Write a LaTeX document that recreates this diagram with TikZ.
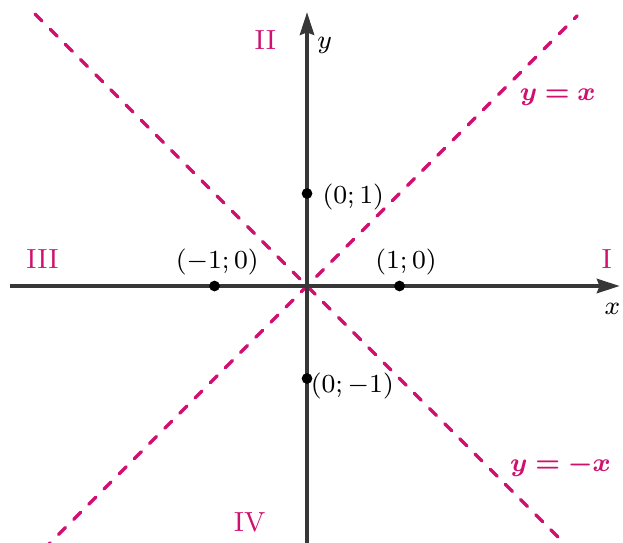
\documentclass[tikz,border=0pt]{standalone}
\usepackage{amsmath}
\usepackage{amssymb}
\usepackage{bm}
\usepackage{tikz}
\usepackage{xcolor}
\usetikzlibrary{arrows.meta}
\definecolor{rose}{RGB}{208,16,110}
\definecolor{axisgray}{RGB}{55,55,55}
\tikzset{
  axis/.style={color=axisgray,line width=1.05pt,-{Stealth[length=7pt,width=4.4pt,inset=0.8pt]}},
  bisector/.style={color=rose,line width=1.05pt,line cap=round,dash pattern=on 3pt off 3.6pt},
  pt/.style={circle,fill=black,inner sep=0pt,minimum size=3.3pt},
  quad/.style={color=rose,font=\fontsize{8.5}{10}\selectfont},
  lab/.style={font=\fontsize{8.5}{10}\selectfont,inner sep=1pt},
}

\begin{document}
\begin{tikzpicture}
      \useasboundingbox (-3.319,-2.778) rectangle (3.416,3.092);
      \coordinate (O) at (0,0);
      \coordinate (xs) at (-3.21,0);
      \coordinate (xe) at (3.38,0);
      \coordinate (ys) at (0,-2.85);
      \coordinate (ye) at (0,2.96);
%%
      \coordinate (d1s) at (-2.85,-2.85);
      \coordinate (d1e) at (2.92,2.92);
      \coordinate (d2s) at (-2.94,2.94);
      \coordinate (d2e) at (2.85,-2.85);
      \draw [bisector] (d1s) -- (d1e);
      \draw [bisector] (d2s) -- (d2e);
%%
      \draw [axis] (xs) -- (xe);
      \draw [axis] (ys) -- (ye);
      \node (X) [lab] at (3.30,-0.25) {$x$};
      \node (Y) [lab] at (0.19,2.60) {$y$};
%%
      \node (A) [pt] at (1,0) {};
      \node (B) [pt] at (-1,0) {};
      \node (C) [pt] at (0,1) {};
      \node (D) [pt] at (0,-1) {};
      \node (Alab) [lab] at (1.07,0.26) {$(1;0)$};
      \node (Blab) [lab] at (-0.97,0.26) {$(-1;0)$};
      \node (Clab) [lab] at (0.50,0.96) {$(0;1)$};
      \node (Dlab) [lab] at (0.49,-1.08) {$(0;-1)$};
%%
      \node (Q1) [quad] at (3.24,0.29) {I};
      \node (Q2) [quad] at (-0.45,2.66) {II};
      \node (Q3) [quad] at (-2.86,0.29) {III};
      \node (Q4) [quad] at (-0.62,-2.55) {IV};
%%
      \node (L1) [quad] at (2.71,2.04) {$\bm{y=x}$};
      \node (L2) [quad] at (2.74,-1.94) {$\bm{y=-x}$};
    \end{tikzpicture}
\end{document}
